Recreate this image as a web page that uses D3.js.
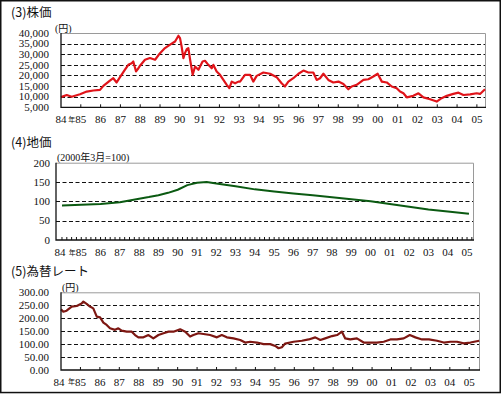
<!DOCTYPE html>
<html><head><meta charset="utf-8">
<script src="https://cdn.jsdelivr.net/npm/d3@7/dist/d3.min.js"></script>
<style>body{margin:0;background:#fff}svg{display:block}</style>
</head><body>
<svg id="c" width="502" height="394"></svg>
<script>
// ---- data ----
const yearLabels = ["84","85","86","87","88","89","90","91","92","93","94","95","96","97","98","99","00","01","02","03","04","05"];
const yearTicks = d3.range(1984, 2006);

const stockYears = [1984.00,1984.29,1984.54,1984.96,1985.30,1985.63,1985.97,1986.14,1986.47,1986.64,1986.81,1986.98,1987.23,1987.40,1987.57,1987.65,1987.79,1987.91,1987.99,1988.24,1988.49,1988.75,1989.00,1989.25,1989.51,1989.76,1989.93,1990.01,1990.09,1990.18,1990.26,1990.35,1990.43,1990.52,1990.65,1990.77,1990.94,1991.02,1991.15,1991.27,1991.44,1991.61,1991.69,1991.86,1992.03,1992.20,1992.37,1992.50,1992.62,1992.79,1992.96,1993.04,1993.29,1993.55,1993.71,1993.88,1994.22,1994.56,1994.89,1995.14,1995.31,1995.48,1995.73,1995.99,1996.24,1996.49,1996.74,1996.91,1997.08,1997.25,1997.50,1997.75,1998.01,1998.26,1998.51,1998.68,1998.93,1999.27,1999.52,1999.77,1999.99,2000.20,2000.45,2000.70,2000.95,2001.12,2001.29,2001.46,2001.79,2002.05,2002.30,2002.64,2002.97,2003.22,2003.48,2003.81,2004.07,2004.32,2004.66,2004.99,2005.16,2005.41];
const stockValues = [9800,10800,10000,11150,12400,12900,13200,15100,17600,18700,16700,19200,22700,25000,25800,26600,21900,23400,24600,27400,28200,27400,30500,32900,34500,36000,38700,37600,33700,28200,30500,32400,32900,27400,20300,24200,22700,24200,26600,26900,25000,23400,25000,21900,20300,17900,15600,14000,17100,16300,17100,17100,20300,20300,17100,19800,21400,20800,19200,16300,14800,17100,18700,20800,22300,21400,21400,17900,18700,20800,17900,16700,17100,16000,13500,14800,15600,17900,18200,19500,20800,17100,16700,14800,14000,12400,11600,9700,10400,11600,9700,8800,7700,9300,10400,11300,11900,10800,11100,11600,11300,13500];
const stockTicks = [5000,10000,15000,20000,25000,30000,35000,40000];
const stockTickLabels = ["5,000","10,000","15,000","20,000","25,000","30,000","35,000","40,000"];

const landYears = [1984.0,1985.0,1986.0,1987.0,1987.5,1988.0,1988.5,1989.0,1989.5,1990.0,1990.5,1991.0,1991.5,1992.0,1993.0,1994.0,1995.0,1996.0,1997.0,1998.0,1999.0,2000.0,2001.0,2002.0,2003.0,2004.0,2005.1];
const landValues = [89,91,93,97.5,102,107,111,116,122,130,142,148,150,146,139,131,125.5,120.5,115.5,110.5,105.3,100,93,86,79,74,68];
const landTicks = [0,50,100,150,200];
const landTickLabels = ["0","50","100","150","200"];

const fxYears = [1984.00,1984.12,1984.29,1984.55,1984.81,1985.06,1985.15,1985.32,1985.49,1985.66,1985.84,1986.01,1986.18,1986.35,1986.52,1986.78,1986.95,1987.12,1987.38,1987.64,1987.81,1987.98,1988.24,1988.50,1988.75,1989.01,1989.27,1989.53,1989.78,1990.13,1990.39,1990.64,1990.81,1991.07,1991.33,1991.67,1992.02,1992.27,1992.53,1992.87,1993.22,1993.47,1993.73,1994.08,1994.42,1994.76,1995.02,1995.19,1995.36,1995.53,1995.96,1996.39,1996.74,1997.08,1997.34,1997.59,1997.94,1998.20,1998.45,1998.62,1998.88,1999.22,1999.57,1999.91,2000.25,2000.60,2000.94,2001.28,2001.63,2001.94,2002.23,2002.57,2002.92,2003.34,2003.69,2004.03,2004.37,2004.72,2005.06,2005.51];
const fxValues = [234,225,229,245,247,257,264,255,245,238,206,203,183,174,161,155,161,152,148,148,135,126,126,135,122,135,142,148,148,157,148,129,135,142,139,135,126,135,126,122,116,106,109,106,100,100,93,84,88,102,109,113,118,126,116,122,131,135,148,122,118,122,106,106,106,109,118,118,122,135,126,118,118,113,106,109,109,103,106,113];
const fxTicks = [0,50,100,150,200,250,300];
const fxTickLabels = ["0.00","50.00","100.00","150.00","200.00","250.00","300.00"];

// ---- drawing ----
const svg = d3.select("#c");
const serif = "'Liberation Serif','DejaVu Serif','Noto Sans CJK JP',serif";
const jp = "'Noto Sans CJK JP','Noto Sans',sans-serif";

svg.append("rect").attr("x",0.75).attr("y",0.75).attr("width",499.5).attr("height",391.8)
  .attr("fill","none").attr("stroke","#111").attr("stroke-width",1.5);

function panel(o){
  const x = d3.scaleLinear().domain(o.xDomain).range([o.left,o.right]);
  const y = d3.scaleLinear().domain(o.yDomain).range([o.bottom,o.top]);
  const g = svg.append("g");
  // title
  g.append("text").attr("x",11).attr("y",o.titleY).attr("font-family",jp).attr("font-size",12.5)
    .attr("fill","#111").text(o.title);
  g.append("text").attr("x",o.unitX).attr("y",o.unitY).attr("font-family",serif).attr("font-size",10)
    .attr("fill","#111").text(o.unit);
  // grid
  o.ticks.forEach(t=>{
    if(t===o.yDomain[0]||t===o.yDomain[1]) return;
    g.append("line").attr("x1",o.left).attr("x2",o.right).attr("y1",Math.round(y(t))+0.5).attr("y2",Math.round(y(t))+0.5)
      .attr("stroke","#111").attr("stroke-width",1).attr("stroke-dasharray","4,2.5");
  });
  // frame top/right gray
  g.append("path").attr("d",`M${o.left},${o.top+0.5}H${o.right+0.5}V${o.bottom}`)
    .attr("fill","none").attr("stroke","#9a9a9a").attr("stroke-width",1);
  // y tick labels
  o.ticks.forEach((t,i)=>{
    g.append("text").attr("x",o.labelRight).attr("y",y(t)+3.8).attr("text-anchor","end")
      .attr("font-family",serif).attr("font-size",11).attr("fill","#111").text(o.tickLabels[i]);
  });
  // x ticks
  o.xTicks.forEach(t=>{
    const px = x(t);
    if(px<o.left+1) return;
    g.append("line").attr("x1",px).attr("x2",px).attr("y1",o.bottom).attr("y2",o.bottom-3)
      .attr("stroke","#111").attr("stroke-width",1);
  });
  // x labels
  yearTicks.forEach((t,i)=>{
    g.append("text").attr("x",x(t)+(i===0?o.firstShift:0)).attr("y",o.labelY).attr("text-anchor","middle")
      .attr("font-family",serif).attr("font-size",11).attr("fill","#111").text(yearLabels[i]);
  });
  g.append("text").attr("x",x(1985)-5.5).attr("y",o.labelY-1.5).attr("text-anchor","end")
    .attr("font-family",jp).attr("font-size",7).attr("fill","#111").text("年");
  // line
  const pts = o.xs.map((d,i)=>[d,o.vs[i]]);
  g.append("path").datum(pts)
    .attr("d",d3.line().x(d=>x(d[0])).y(d=>y(d[1])))
    .attr("fill","none").attr("stroke",o.color).attr("stroke-width",o.width)
    .attr("stroke-linejoin","round");
  // axes left/bottom
  g.append("path").attr("d",`M${o.left},${o.top}V${o.bottom}H${o.right+1}`)
    .attr("fill","none").attr("stroke","#111").attr("stroke-width",1.3);
}

panel({title:"(3)株価", titleY:17, unit:"(円)", unitX:55, unitY:32,
  left:61, right:485, top:33, bottom:107.3, xDomain:[1984,2005.41], yDomain:[5000,40000],
  ticks:stockTicks, tickLabels:stockTickLabels, labelRight:49, labelY:123, firstShift:0,
  xTicks:yearTicks, xs:stockYears, vs:stockValues, color:"#e0141a", width:2.2});

panel({title:"(4)地価", titleY:147, unit:"(2000年3月=100)", unitX:57, unitY:161,
  left:56, right:473, top:162.7, bottom:240, xDomain:[1983.69,2005.31], yDomain:[0,200],
  ticks:landTicks, tickLabels:landTickLabels, labelRight:50, labelY:256, firstShift:-2,
  xTicks:d3.range(1984,2005.3,0.25), xs:landYears, vs:landValues, color:"#0b5a12", width:2});

panel({title:"(5)為替レート", titleY:276, unit:"(円)", unitX:62, unitY:291,
  left:61, right:479, top:292.3, bottom:370, xDomain:[1984,2005.5], yDomain:[0,300],
  ticks:fxTicks, tickLabels:fxTickLabels, labelRight:49, labelY:385.5, firstShift:-2,
  xTicks:yearTicks, xs:fxYears, vs:fxValues, color:"#7d1712", width:2.2});
</script>
</body></html>
